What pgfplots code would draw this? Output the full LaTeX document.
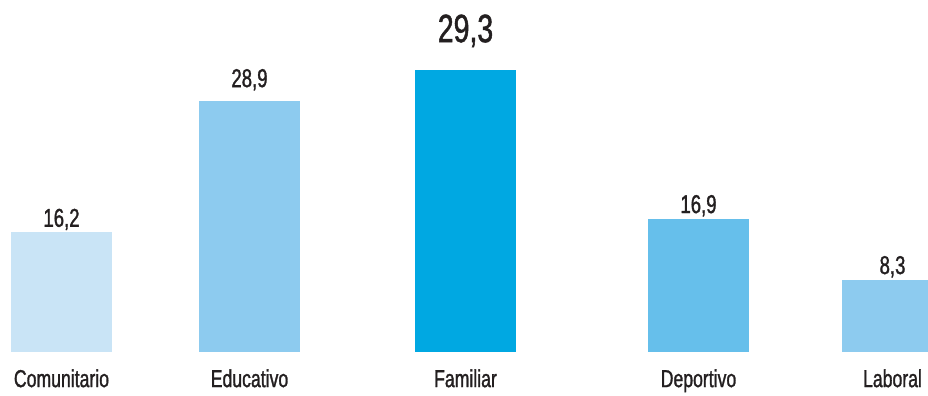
\documentclass[border=0pt]{standalone}
\usepackage{pgfplots}
\pgfplotsset{compat=1.18}
\usepackage{fontspec}
\setmainfont{Liberation Sans}[FakeStretch=0.72, FakeBold=1.2]
\definecolor{cA}{HTML}{C9E4F6}
\definecolor{cB}{HTML}{8DCBEF}
\definecolor{cC}{HTML}{00A8E2}
\definecolor{cD}{HTML}{66BFEB}
\definecolor{cE}{HTML}{8DCBEF}
\definecolor{textc}{HTML}{231F20}
\begin{document}
\begin{tikzpicture}
\begin{axis}[
  width=928pt, height=393pt, scale only axis,
  xmin=0, xmax=928, ymin=-4.713, ymax=40.46,
  axis line style={draw=none},
  ytick=\empty,
  xtick={61.5,249.5,465.5,698.5,892.5},
  xticklabels={Comunitario,Educativo,Familiar,Deportivo,Laboral},
  major tick length=0pt,
  xticklabel style={anchor=base, yshift=6pt, font=\fontsize{24.5}{29}\selectfont, text=textc},
  ybar, bar width=101, bar shift=0pt,
  nodes near coords, point meta=explicit symbolic,
  every node near coord/.append style={anchor=base, font=\fontsize{25.8}{30}\selectfont, text=textc},
]
\addplot[fill=cA, draw=none, every node near coord/.append style={yshift=5.6pt}] coordinates {(61.5,13.76) [16,2]};
\addplot[fill=cB, draw=none, every node near coord/.append style={yshift=14pt}] coordinates {(249.5,28.85) [28,9]};
\addplot[fill=cC, draw=none, every node near coord/.append style={yshift=28pt, font=\fontsize{39.5}{44}\selectfont}] coordinates {(465.5,32.41) [29,3]};
\addplot[fill=cD, draw=none, every node near coord/.append style={yshift=6pt}] coordinates {(698.5,15.29) [16,9]};
\addplot[fill=cE, draw=none, every node near coord/.append style={yshift=6pt}] coordinates {(892.5,8.28) [8,3]};
\end{axis}
\end{tikzpicture}
\end{document}
